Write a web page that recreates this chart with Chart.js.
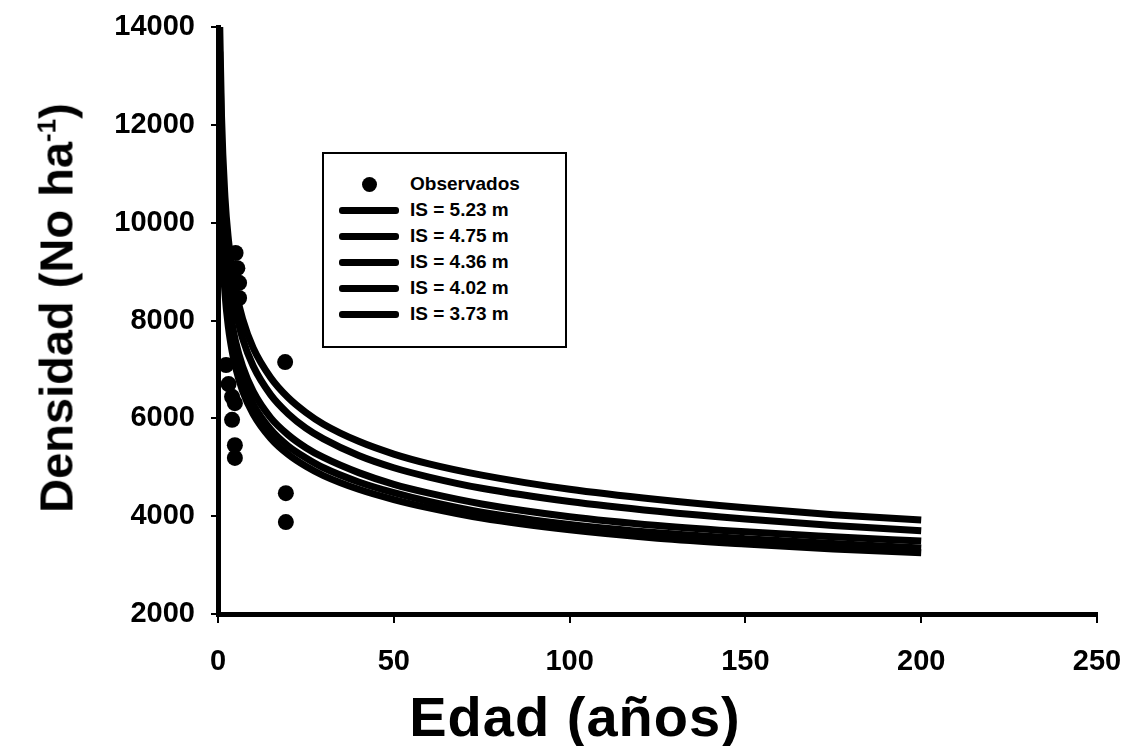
<!DOCTYPE html>
<html>
<head>
<meta charset="utf-8">
<script src="https://cdn.jsdelivr.net/npm/chart.js@4.4.0/dist/chart.umd.min.js"></script>
<style>
  html, body { margin: 0; padding: 0; background: #fff; }
  #wrap { position: relative; width: 1128px; height: 746px; overflow: hidden; }
  #chart { position: absolute; left: 0; top: 0; }
  .title { position: absolute; font-family: "Liberation Sans", Arial, sans-serif; font-weight: bold; color: #000; white-space: nowrap; }
  #ytitle { font-size: 47px; left: 56px; top: 308px; transform: translate(-50%, -50%) rotate(-90deg); }
  #ytitle sup { font-size: 26px; }
  #xtitle { font-size: 56px; left: 575px; top: 716px; transform: translate(-50%, -50%); letter-spacing: 1px; }
  #legend { position: absolute; left: 322px; top: 152px; width: 245px; height: 196px; border: 2px solid #000; box-sizing: border-box; background: #fff;
            font-family: "Liberation Sans", Arial, sans-serif; font-weight: bold; font-size: 19px; }
  .item { position: absolute; left: 0; height: 24px; width: 100%; }
  .item .sym { position: absolute; left: 15px; top: 12px; width: 60px; height: 7px; margin-top: -3px; background: #000; border-radius: 3px; }
  .item .dot { position: absolute; left: 38px; top: 12px; width: 15px; height: 15px; margin-top: -7px; background: #000; border-radius: 50%; }
  .item .lab { position: absolute; left: 86px; top: 0; line-height: 24px; }
</style>
</head>
<body>
<div id="wrap">
  <canvas id="chart" width="1128" height="746"></canvas>
  <div class="title" id="ytitle">Densidad (No ha<sup>-1</sup>)</div>
  <div class="title" id="xtitle">Edad (años)</div>
  <div id="legend"></div>
</div>
<script>
// edad (años) donde se leen las curvas
const ages = [0.5, 1, 2, 3, 4, 5, 7, 10, 15, 20, 25, 30, 40, 50, 60, 75, 100, 125, 150, 175, 200];

// densidad (No/ha) de cada curva de indice de sitio
const is523 = [14000, 12180, 10500, 9630, 9060, 8630, 8030, 7440, 6830, 6420, 6120, 5880, 5530, 5270, 5070, 4840, 4550, 4340, 4170, 4030, 3920];
const is475 = [13500, 11620, 10000, 9170, 8610, 8210, 7630, 7070, 6480, 6090, 5800, 5580, 5240, 4990, 4800, 4570, 4300, 4100, 3940, 3810, 3700];
const is436 = [12280, 10620, 9180, 8430, 7940, 7570, 7060, 6550, 6010, 5660, 5400, 5200, 4890, 4650, 4470, 4250, 3990, 3810, 3680, 3580, 3490];
const is402 = [11790, 10190, 8810, 8090, 7620, 7270, 6770, 6290, 5770, 5430, 5190, 4990, 4700, 4480, 4300, 4080, 3830, 3660, 3540, 3440, 3350];
const is373 = [11420, 9870, 8540, 7840, 7380, 7040, 6560, 6090, 5590, 5260, 5020, 4830, 4550, 4340, 4170, 3960, 3720, 3550, 3430, 3330, 3250];

// observados
const obsAge  = [5.0, 5.5, 6.0, 6.0, 2.3, 3.0, 4.0, 4.8, 4.0, 4.8, 4.8, 19.1, 19.3, 19.3];
const obsDens = [9380, 9070, 8770, 8460, 7090, 6700, 6440, 6310, 5970, 5450, 5190, 7150, 4470, 3880];

const curveNames = ['IS = 5.23 m', 'IS = 4.75 m', 'IS = 4.36 m', 'IS = 4.02 m', 'IS = 3.73 m'];
const curves = [is523, is475, is436, is402, is373];
const obsName = 'Observados';

const xTicks = [0, 50, 100, 150, 200, 250];
const yTicks = [2000, 4000, 6000, 8000, 10000, 12000, 14000];

const tickFont = { family: '"Liberation Sans", Arial, sans-serif', size: 29, weight: 'bold' };

const datasets = [{
    type: 'scatter',
    label: obsName,
    data: obsAge.map((a, i) => ({ x: a, y: obsDens[i] })),
    pointRadius: 8,
    pointHoverRadius: 8,
    backgroundColor: '#000',
    borderColor: '#000',
    borderWidth: 0
}];
curves.forEach((c, k) => {
    datasets.push({
        type: 'line',
        label: curveNames[k],
        data: ages.map((a, i) => ({ x: a, y: c[i] })),
        borderColor: '#000',
        borderWidth: 7,
        pointRadius: 0,
        cubicInterpolationMode: 'monotone',
        fill: false
    });
});

new Chart(document.getElementById('chart').getContext('2d'), {
    data: { datasets },
    options: {
        responsive: false,
        animation: false,
        devicePixelRatio: 1,
        layout: { padding: { top: 27, right: 31, left: 0, bottom: 0 } },
        plugins: { legend: { display: false }, tooltip: { enabled: false } },
        scales: {
            x: {
                type: 'linear', min: 0, max: 250,
                afterBuildTicks: s => { s.ticks = xTicks.map(v => ({ value: v })); },
                afterFit: s => { s.height = 132; s.paddingLeft = 0; s.paddingRight = 0; },
                ticks: { color: '#000', font: tickFont, padding: 22, callback: v => String(v) },
                grid: { drawOnChartArea: false, drawTicks: true, tickLength: 9, color: '#000', lineWidth: 2 },
                border: { color: '#000', width: 5 }
            },
            y: {
                type: 'linear', min: 2000, max: 14000,
                afterBuildTicks: s => { s.ticks = yTicks.map(v => ({ value: v })); },
                afterFit: s => { s.width = 218; s.paddingTop = 0; s.paddingBottom = 0; },
                ticks: { color: '#000', font: tickFont, padding: 16, callback: v => String(v) },
                grid: { drawOnChartArea: false, drawTicks: true, tickLength: 7, color: '#000', lineWidth: 2 },
                border: { color: '#000', width: 5 }
            }
        }
    }
});

// leyenda dentro del grafico
const leg = document.getElementById('legend');
const rows = [{ name: obsName, dot: true }].concat(curveNames.map(n => ({ name: n, dot: false })));
rows.forEach((r, i) => {
    const d = document.createElement('div');
    d.className = 'item';
    d.style.top = (18 + i * 26) + 'px';
    d.innerHTML = (r.dot ? '<span class="dot"></span>' : '<span class="sym"></span>') + '<span class="lab">' + r.name + '</span>';
    leg.appendChild(d);
});
</script>
</body>
</html>
